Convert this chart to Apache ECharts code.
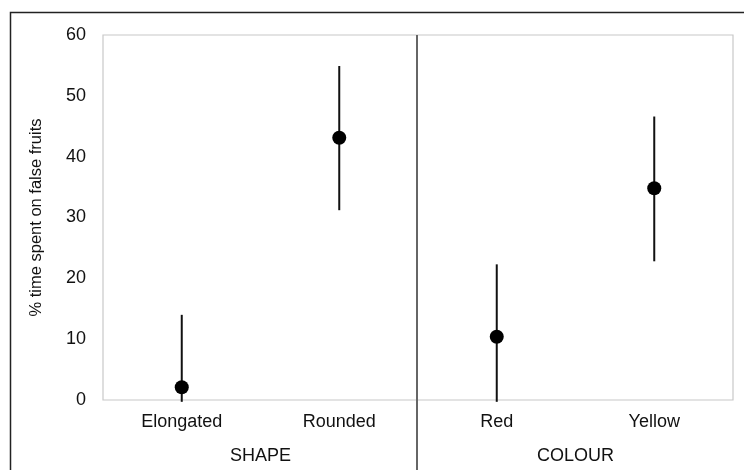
<!DOCTYPE html>
<html>
<head>
<meta charset="utf-8">
<script src="https://cdn.jsdelivr.net/npm/echarts@6/dist/echarts.min.js"></script>
<style>html,body{margin:0;padding:0;background:#fff}#c{width:744px;height:470px}</style>
</head>
<body>
<div id="c"></div>
<script>
const categories = ['Elongated', 'Rounded', 'Red', 'Yellow'];
const groups = ['SHAPE', 'COLOUR'];
const means = [2.1, 43.1, 10.4, 34.8];
const upper = [14.0, 54.9, 22.3, 46.6];
const lower = [-0.3, 31.2, -0.3, 22.8];
const yTicks = [0, 10, 20, 30, 40, 50, 60];

const FONT = '"Liberation Sans", Arial, sans-serif';
const chart = echarts.init(document.getElementById('c'), null, {renderer: 'canvas'});

chart.setOption({
  animation: false,
  backgroundColor: '#fff',
  graphic: [{
    type: 'rect', silent: true, z: 100,
    shape: {x: 10.5, y: 12.5, width: 800, height: 600},
    style: {fill: 'none', stroke: '#222', lineWidth: 1.5}
  }],
  grid: {left: 103, top: 35, right: 11, bottom: 70, show: true, borderColor: '#c8c8c8', borderWidth: 1.2, backgroundColor: 'transparent'},
  xAxis: [{
    type: 'category', data: categories, position: 'bottom',
    axisLine: {show: false}, axisTick: {show: false},
    axisLabel: {fontFamily: FONT, fontSize: 18, color: '#111', margin: 13}
  }, {
    type: 'category', data: groups, position: 'bottom', offset: 34,
    axisLine: {show: false}, axisTick: {show: false},
    axisLabel: {fontFamily: FONT, fontSize: 18, color: '#111', margin: 13}
  }],
  yAxis: {
    type: 'value', min: yTicks[0], max: yTicks[yTicks.length - 1], interval: 10,
    axisLine: {show: false}, axisTick: {show: false}, splitLine: {show: false},
    axisLabel: {fontFamily: FONT, fontSize: 18, color: '#111', margin: 17},
    name: '% time spent on false fruits', nameLocation: 'middle', nameGap: 58,
    nameTextStyle: {fontFamily: FONT, fontSize: 16.5, color: '#111'}
  },
  series: [{
    type: 'custom',
    xAxisIndex: 0,
    data: categories.map((c, i) => [i, lower[i], upper[i]]),
    renderItem: function (params, api) {
      const lo = api.coord([api.value(0), api.value(1)]);
      const hi = api.coord([api.value(0), api.value(2)]);
      return {
        type: 'line',
        shape: {x1: lo[0], y1: lo[1], x2: hi[0], y2: hi[1]},
        style: {stroke: '#111', lineWidth: 2}
      };
    },
    z: 2
  }, {
    type: 'custom',
    xAxisIndex: 0,
    data: [[1.5]],
    renderItem: function (params, api) {
      const a = api.coord([1, 60]);
      const b = api.coord([2, 60]);
      const x = Math.round((a[0] + b[0]) / 2) - 1;
      return {
        type: 'line',
        shape: {x1: x, y1: a[1], x2: x, y2: api.getHeight()},
        style: {stroke: '#666', lineWidth: 2}
      };
    },
    z: 3
  }, {
    type: 'scatter',
    xAxisIndex: 0,
    data: categories.map((c, i) => [i, means[i]]),
    symbol: 'circle', symbolSize: 14,
    itemStyle: {color: '#000', opacity: 1},
    z: 5
  }]
});
</script>
</body>
</html>
